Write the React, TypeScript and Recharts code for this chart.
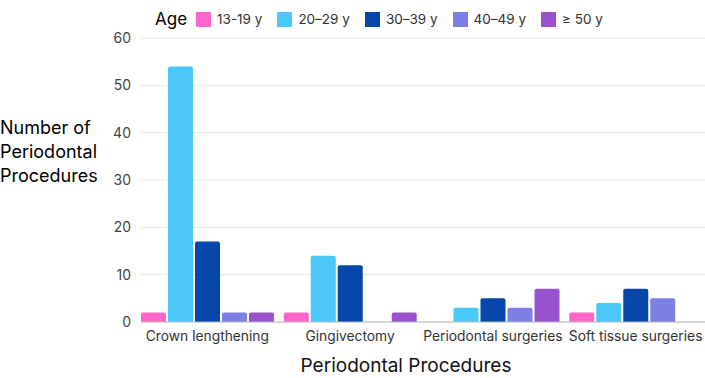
import { BarChart, Bar, XAxis, YAxis, CartesianGrid } from "recharts"

const procedures = ["Crown lengthening", "Gingivectomy", "Periodontal surgeries", "Soft tissue surgeries"]
const ageGroups = ["13-19 y", "20–29 y", "30–39 y", "40–49 y", "≥ 50 y"]
const age13to19 = [2, 2, 0, 2]
const age20to29 = [54, 14, 3, 4]
const age30to39 = [17, 12, 5, 7]
const age40to49 = [2, 0, 3, 5]
const age50plus = [2, 2, 7, 0]
const yTicks = [0, 10, 20, 30, 40, 50, 60]

const colors = ["#ff66cc", "#4cc8f8", "#0746aa", "#7e7fe4", "#9a52cc"]
const keys = ["a", "b", "c", "d", "e"]

const data = procedures.map((name, i) => ({
  name,
  a: age13to19[i],
  b: age20to29[i],
  c: age30to39[i],
  d: age40to49[i],
  e: age50plus[i],
}))

const font = "Inter, 'Noto Sans', sans-serif"

function AgeLegend() {
  return (
    <div style={{ position: "absolute", top: 9, left: 155, display: "flex", alignItems: "center", fontFamily: font }}>
      <span style={{ fontSize: 17, color: "#000", marginRight: 9 }}>Age</span>
      {ageGroups.map((g, i) => (
        <span key={g} style={{ display: "flex", alignItems: "center", marginRight: 15 }}>
          <span style={{ width: 15, height: 15, background: colors[i], display: "inline-block", marginRight: 6 }} />
          <span style={{ fontSize: 13.5, color: "#333" }}>{g}</span>
        </span>
      ))}
    </div>
  )
}

export default function App() {
  return (
    <div style={{ position: "absolute", left: 0, top: 0, width: 705, height: 378, background: "#fff" }}>
      <BarChart
        width={705}
        height={378}
        data={data}
        margin={{ top: 38, right: 0, bottom: 26, left: 0 }}
        barCategoryGap={5}
        barGap={2}
      >
        <CartesianGrid vertical={false} stroke="#e4e4e4" />
        <XAxis
          dataKey="name"
          padding={{ left: -5, right: -2 }}
          tickLine={false}
          axisLine={{ stroke: "#bdbdbd" }}
          tick={{ fontSize: 13.8, fill: "#333", fontFamily: font }}
          tickMargin={3}
          interval={0}
          label={{
            content: () => (
              <text x={406} y={372} textAnchor="middle" style={{ fontSize: 19, fill: "#111", fontFamily: font }}>
                Periodontal Procedures
              </text>
            ),
          }}
        />
        <YAxis
          width={141}
          domain={[0, 60]}
          ticks={yTicks}
          tickLine={false}
          axisLine={false}
          tickSize={0}
          tickMargin={10}
          tick={{ fontSize: 14, fill: "#444", fontFamily: font }}
          label={{
            content: () => (
              <text x={0} y={134} style={{ fontSize: 18, fill: "#000", fontFamily: font }}>
                <tspan x={0} y={134}>Number of</tspan>
                <tspan x={0} y={158}>Periodontal</tspan>
                <tspan x={0} y={182}>Procedures</tspan>
              </text>
            ),
          }}
        />
        {keys.map((k, i) => (
          <Bar key={k} dataKey={k} name={ageGroups[i]} fill={colors[i]} radius={[2, 2, 0, 0]} isAnimationActive={false} />
        ))}
      </BarChart>
      <AgeLegend />
    </div>
  )
}
